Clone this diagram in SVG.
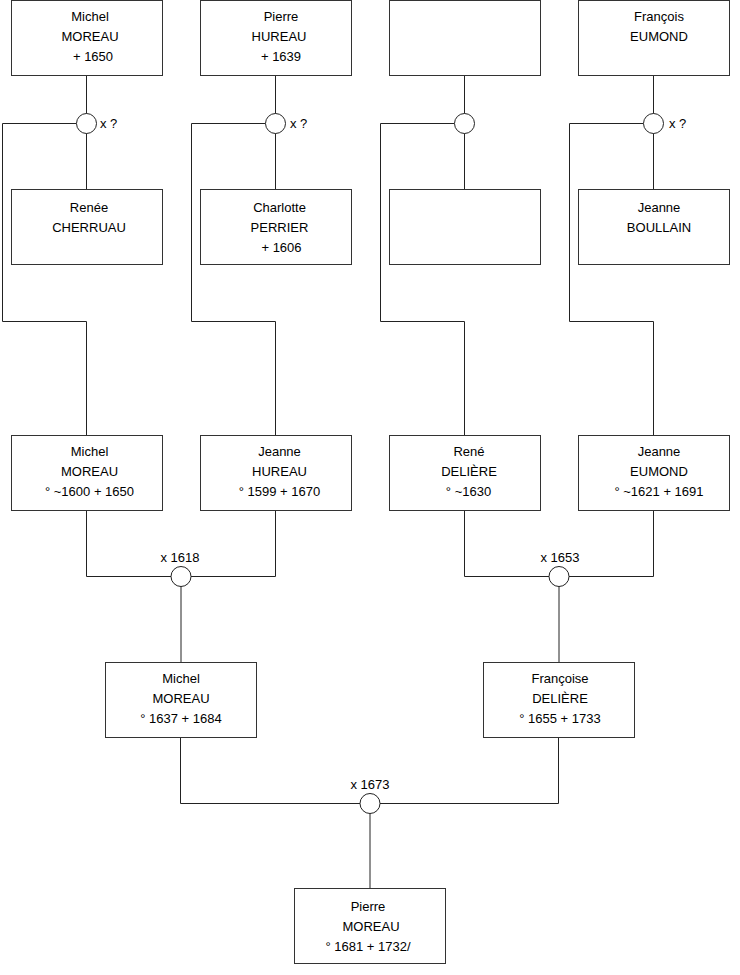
<svg xmlns="http://www.w3.org/2000/svg" width="740" height="975" viewBox="0 0 740 975">
<style>
.box{fill:#fff;stroke:#333;stroke-width:1}
.ln{fill:none;stroke:#222;stroke-width:1}
.ring{fill:#fff;stroke:#222;stroke-width:1}
text{font-family:"Liberation Sans",Arial,sans-serif;font-size:13px;fill:#000}
.c{text-anchor:middle}
</style>
<rect width="740" height="975" fill="#fff"/>
<g id="connectors">
<!-- column 1 -->
<path class="ln" d="M86.5 76V189M76.5 123.5H2.5V321.5H86.5V435"/>
<path class="ln" d="M275.5 76V189M265.5 123.5H191.5V321.5H275.5V435"/>
<path class="ln" d="M464.5 76V189M454.5 123.5H380.5V321.5H464.5V435"/>
<path class="ln" d="M653.5 76V189M643.5 123.5H569.5V321.5H653.5V435"/>
<path class="ln" d="M86.5 510V576.5H275.5V510M181 576.5V662"/>
<path class="ln" d="M464.5 510V576.5H653.5V510M559 576.5V662"/>
<path class="ln" d="M180.5 737V803.5H558.5V737M370 803.5V888"/>
</g>
<g id="union1"><circle class="ring" cx="86.5" cy="123.5" r="10"/><text x="100" y="128">x ?</text></g>
<g id="union2"><circle class="ring" cx="275.5" cy="123.5" r="10"/><text x="290" y="128">x ?</text></g>
<g id="union3"><circle class="ring" cx="464.5" cy="123.5" r="10"/></g>
<g id="union4"><circle class="ring" cx="653.5" cy="123.5" r="10"/><text x="669" y="128">x ?</text></g>
<g id="union5"><circle class="ring" cx="181" cy="576.5" r="10"/><text class="c" x="180" y="562">x 1618</text></g>
<g id="union6"><circle class="ring" cx="559" cy="576.5" r="10"/><text class="c" x="560" y="562">x 1653</text></g>
<g id="union7"><circle class="ring" cx="370" cy="803.5" r="10"/><text class="c" x="370" y="789">x 1673</text></g>

<g id="michel-moreau-1650">
<rect class="box" x="11.5" y="0.5" width="151" height="75"/>
<text class="c" x="90" y="21">Michel</text><text class="c" x="90" y="41">MOREAU</text><text class="c" x="93" y="61">+ 1650</text>
</g>
<g id="pierre-hureau">
<rect class="box" x="200.5" y="0.5" width="151" height="75"/>
<text class="c" x="281" y="21">Pierre</text><text class="c" x="279" y="41">HUREAU</text><text class="c" x="281" y="61">+ 1639</text>
</g>
<g id="unknown-top">
<rect class="box" x="389.5" y="0.5" width="151" height="75"/>
</g>
<g id="francois-eumond">
<rect class="box" x="578.5" y="0.5" width="151" height="75"/>
<text class="c" x="659" y="21">François</text><text class="c" x="659" y="41">EUMOND</text>
</g>

<g id="renee-cherruau">
<rect class="box" x="11.5" y="189.5" width="151" height="75"/>
<text class="c" x="89" y="212">Renée</text><text class="c" x="89" y="232">CHERRUAU</text>
</g>
<g id="charlotte-perrier">
<rect class="box" x="200.5" y="189.5" width="151" height="75"/>
<text class="c" x="279.5" y="212">Charlotte</text><text class="c" x="279.5" y="232">PERRIER</text><text class="c" x="281.5" y="252">+ 1606</text>
</g>
<g id="unknown-wife">
<rect class="box" x="389.5" y="189.5" width="151" height="75"/>
</g>
<g id="jeanne-boullain">
<rect class="box" x="578.5" y="189.5" width="151" height="75"/>
<text class="c" x="659" y="212">Jeanne</text><text class="c" x="659" y="232">BOULLAIN</text>
</g>

<g id="michel-moreau-1600">
<rect class="box" x="11.5" y="435.5" width="151" height="75"/>
<text class="c" x="89.5" y="456">Michel</text><text class="c" x="89.5" y="476">MOREAU</text><text class="c" x="89.5" y="496">° ~1600 + 1650</text>
</g>
<g id="jeanne-hureau">
<rect class="box" x="200.5" y="435.5" width="151" height="75"/>
<text class="c" x="279.5" y="456">Jeanne</text><text class="c" x="279.5" y="476">HUREAU</text><text class="c" x="279.5" y="496">° 1599 + 1670</text>
</g>
<g id="rene-deliere">
<rect class="box" x="389.5" y="435.5" width="151" height="75"/>
<text class="c" x="469" y="456">René</text><text class="c" x="469" y="476">DELIÈRE</text><text class="c" x="468.5" y="496">° ~1630</text>
</g>
<g id="jeanne-eumond">
<rect class="box" x="578.5" y="435.5" width="151" height="75"/>
<text class="c" x="659" y="456">Jeanne</text><text class="c" x="659" y="476">EUMOND</text><text class="c" x="659" y="496">° ~1621 + 1691</text>
</g>

<g id="michel-moreau-1637">
<rect class="box" x="105.5" y="662.5" width="151" height="75"/>
<text class="c" x="181" y="683">Michel</text><text class="c" x="181" y="703">MOREAU</text><text class="c" x="181" y="723">° 1637 + 1684</text>
</g>
<g id="francoise-deliere">
<rect class="box" x="483.5" y="662.5" width="151" height="75"/>
<text class="c" x="560" y="683">Françoise</text><text class="c" x="560" y="703">DELIÈRE</text><text class="c" x="560" y="723">° 1655 + 1733</text>
</g>

<g id="pierre-moreau">
<rect class="box" x="294.5" y="888.5" width="151" height="75"/>
<text class="c" x="368" y="911">Pierre</text><text class="c" x="371" y="931">MOREAU</text><text class="c" x="368" y="951">° 1681 + 1732/</text>
</g>
</svg>
